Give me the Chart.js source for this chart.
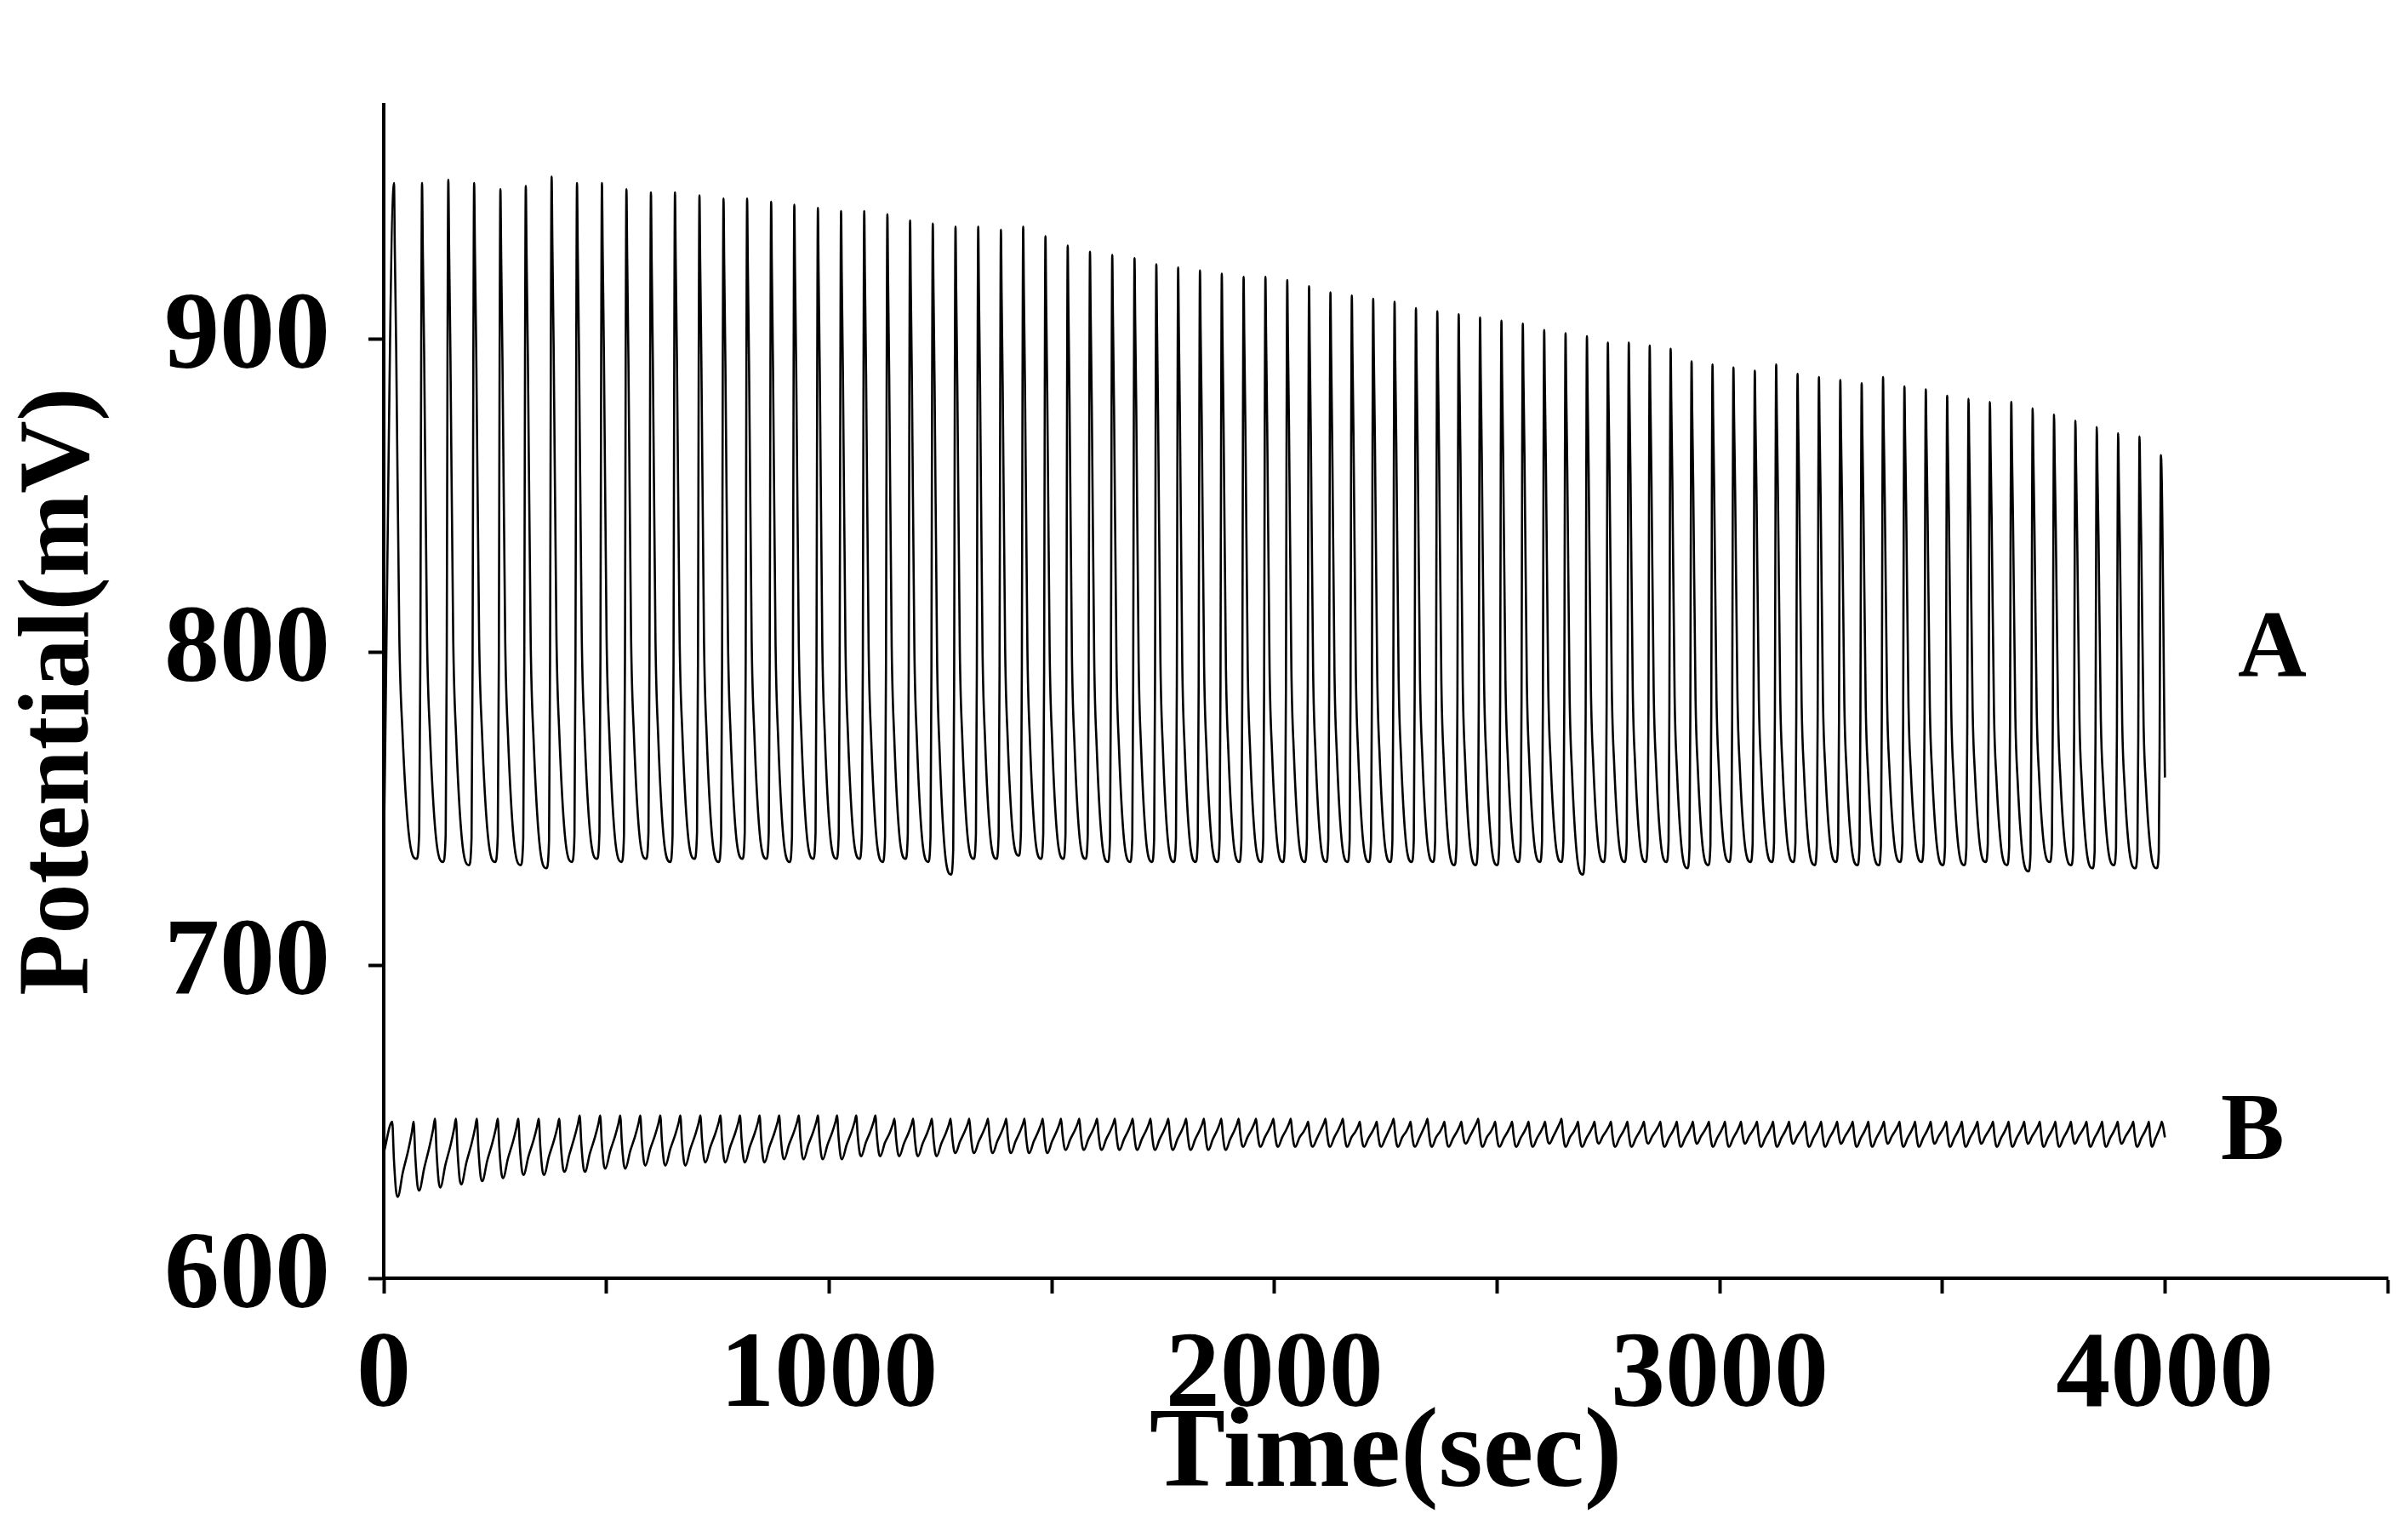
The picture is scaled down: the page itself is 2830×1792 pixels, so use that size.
<!DOCTYPE html>
<html lang="en">
<head>
<meta charset="utf-8">
<title>Potential oscillations</title>
<script src="https://cdn.jsdelivr.net/npm/chart.js@4.4.1/dist/chart.umd.min.js"></script>
<style>
  html, body { margin: 0; padding: 0; background: #fff; }
  #wrap { width: 2830px; height: 1792px; }
</style>
</head>
<body>
<div id="wrap"><canvas id="chart" width="2830" height="1792"></canvas></div>
<script>
// peak times (s) and levels (mV)
const peakTimesA = [23,86,145,203,262,319,377,434,490,545,600,654,709,763,816,870,922,
  975,1027,1079,1131,1182,1233,1284,1335,1386,1436,
  1486,1536,1586,1636,1686,1735,1784,1833,1882,1931,
  1980,2029,2078,2126,2174,2222,2270,2318,2366,2414,
  2462,2510,2558,2606,2654,2702,2749,2796,2843,2890,
  2937,2984,3031,3079,3127,3175,3223,3271,3319,3367,3415,3463,3511,3559,3607,3655,3703,3751,3799,3847,3895,3943,3991];
const peaksA = [950,950,951,950,948,949,952,950,950,948,947,947,946,945,945,944,943,
  942,941,941,940,938,937,936,936,935,936,
  933,930,928,927,926,924,923,922,921,920,
  920,919,917,915,914,913,912,910,909,908,
  907,906,905,903,902,901,899,899,898,897,
  893,892,891,890,892,889,888,887,886,888,885,884,882,881,880,880,878,876,874,872,870,869,863];
const troughsA = [734,733,732,733,732,731,733,734,733,734,733,734,733,734,734,733,734,
  734,734,733,734,733,729,734,734,735,734,
  734,734,733,733,733,733,733,733,733,733,
  733,733,733,733,733,733,733,733,732,732,
  732,733,733,733,729,733,733,733,733,731,
  732,733,733,733,733,732,733,732,732,733,733,732,732,733,732,730,733,732,731,732,731,731,760];

const peakTimesB = [19,67,115,162,209,256,302,348,394,440,486,531,576,621,666,711,756,800,844,888,932,
  975,1018,1061,1104,1147,1189,1231,1273,1315,1357,
  1398,1439,1480,1521,1562,1602,1642,1682,1722,1762,
  1802,1842,1881,1920,1959,1998,2037,2076,2115,2154,
  2192,2230,2268,2306,2344,2382,2420,2458,2496,2534,
  2571,2608,2645,2682,2719,2756,2793,2830,2867,2904,
  2940,2976,3012,3048,3084,3120,3156,3192,3228,3264,
  3299,3334,3369,3404,3439,3474,3509,3544,3579,3614,
  3649,3684,3719,3754,3789,3824,3859,3894,3929,3964,3993];
const peaksB = [650,650,651,651,651,651,651,651,651,652,652,652,652,652,652,652,652,652,652,652,652,
  652,652,652,652,651,651,651,651,651,651,
  651,651,651,651,651,651,651,651,651,651,
  651,651,651,651,651,651,651,650,651,651,
  650,650,651,650,651,650,650,651,650,650,
  650,650,651,650,650,650,650,650,650,650,
  650,650,650,650,650,650,650,650,650,650,
  650,650,650,650,650,650,650,650,650,650,
  650,650,650,650,650,650,650,650,650,650,650];
const troughsB = [626,628,629,630,631,632,633,633,634,634,635,635,636,636,636,637,637,637,637,638,638,
  638,638,639,639,639,639,639,640,640,640,
  640,640,640,641,641,641,641,641,641,641,
  641,641,641,642,642,642,642,642,642,642,
  642,642,642,642,642,642,643,642,642,642,
  642,643,642,642,643,642,642,643,642,642,
  643,642,642,643,642,642,643,642,642,643,
  642,642,643,642,642,643,642,642,643,642,
  642,643,642,642,643,642,642,643,642,642,645];

// cycle shapes: [fraction of period after peak, fraction of amplitude above trough]
const shapeA = [[0,1],[0.03,0.9],[0.08,0.75],[0.19,0.33],[0.3,0.19],[0.52,0.04],[0.8,0],[0.9,0.04],[0.94,0.3],[0.97,0.75]];
const shapeB = [[0,1],[0.08,0.5],[0.18,0.08],[0.26,0],[0.5,0.33],[0.75,0.62],[0.92,0.86]];

function buildTrace(times, peaks, troughs, shape, start) {
  const pts = [{x: 0, y: start}];
  for (let i = 0; i < times.length; i++) {
    const t = times[i];
    if (i === times.length - 1) {
      pts.push({x: t, y: peaks[i]});
      pts.push({x: 4000, y: troughs[i]});
      break;
    }
    const P = times[i + 1] - t;
    const lo = troughs[i];
    shape.forEach(function(s) {
      const hi = s[0] < 0.6 ? peaks[i] : peaks[i + 1];
      pts.push({x: t + s[0] * P, y: lo + s[1] * (hi - lo)});
    });
  }
  return pts;
}

const traceA = buildTrace(peakTimesA, peaksA, troughsA, shapeA, 735);
const traceB = buildTrace(peakTimesB, peaksB, troughsB, shapeB, 640);

const serif = '"Liberation Serif", "DejaVu Serif", serif';

const letters = {
  id: 'letters',
  afterDraw(chart) {
    const c = chart.ctx, xs = chart.scales.x, ys = chart.scales.y;
    c.save();
    c.fillStyle = '#000';
    c.font = 'bold 112px ' + serif;
    c.textAlign = 'center';
    c.textBaseline = 'middle';
    c.fillText('A', xs.getPixelForValue(4241), ys.getPixelForValue(800));
    c.fillText('B', xs.getPixelForValue(4197), ys.getPixelForValue(646));
    c.restore();
  }
};

new Chart(document.getElementById('chart'), {
  type: 'line',
  data: {
    datasets: [
      { data: traceA, borderColor: '#000', borderWidth: 2.6, pointRadius: 0, cubicInterpolationMode: 'monotone' },
      { data: traceB, borderColor: '#000', borderWidth: 2.6, pointRadius: 0, cubicInterpolationMode: 'monotone' }
    ]
  },
  options: {
    responsive: false,
    animation: false,
    events: [],
    layout: { padding: { top: -71, right: 24 } },
    plugins: { legend: { display: false }, tooltip: { enabled: false } },
    scales: {
      x: {
        type: 'linear', min: 0, max: 4500,
        afterFit(s) { s.height = 290; },
        ticks: {
          stepSize: 500, autoSkip: false, maxRotation: 0, padding: 22, color: '#000',
          font: { family: serif, size: 128, weight: 'bold' },
          callback: function(v) { return v % 1000 === 0 ? v : ''; }
        },
        grid: { drawOnChartArea: false, tickLength: 18, tickWidth: 4, color: '#000' },
        border: { color: '#000', width: 4 },
        title: { display: true, text: 'Time(sec)', color: '#000', padding: { top: 0, bottom: 0 },
          font: { family: serif, size: 134, weight: 'bold' } }
      },
      y: {
        type: 'linear', min: 600, max: 975,
        afterFit(s) { s.width = 451; },
        afterBuildTicks(s) { s.ticks = [600, 700, 800, 900].map(function(v) { return {value: v}; }); },
        ticks: { padding: 45, color: '#000', font: { family: serif, size: 130, weight: 'bold' } },
        grid: { drawOnChartArea: false, tickLength: 18, tickWidth: 4, color: '#000' },
        border: { color: '#000', width: 4 },
        title: { display: true, text: 'Potential(mV)', color: '#000', padding: { top: 2, bottom: 0 },
          font: { family: serif, size: 118, weight: 'bold' } }
      }
    }
  },
  plugins: [letters]
});
</script>
</body>
</html>
